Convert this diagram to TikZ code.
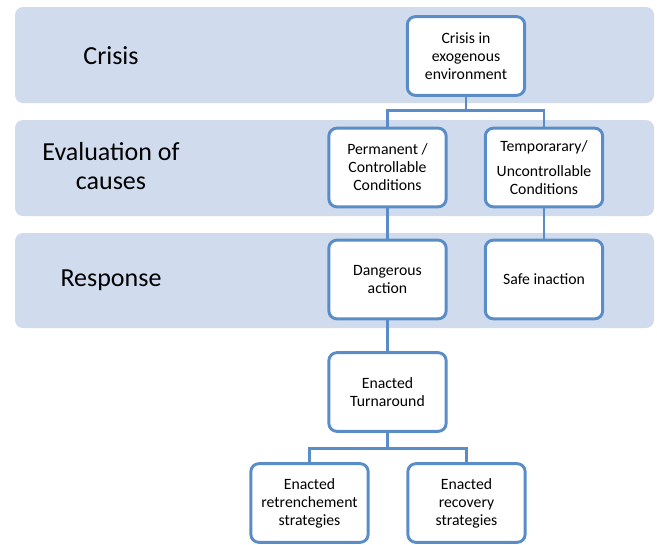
\documentclass[tikz,border=0pt]{standalone}
\usepackage{fontspec}
\setmainfont{Carlito}
\usepackage{tikz}
\usepackage{xcolor}
\definecolor{bandc}{HTML}{D0DCEE}
\definecolor{bordc}{HTML}{5A8DC8}

\begin{document}
\begin{tikzpicture}[x=0.75pt,y=-0.75pt]%
  \tikzstyle{band}=[fill=bandc,rounded corners=6pt]
  \tikzstyle{lab}=[font=\fontsize{19.5}{22}\selectfont,align=center]
  \tikzstyle{boxn}=[rectangle,draw=bordc,fill=white,line width=2.2pt,rounded corners=6pt,
    minimum width=88pt,minimum height=59pt,inner sep=0,align=center,
    font=\fontsize{11.8}{13.5}\selectfont]
  \tikzstyle{conn}=[draw=bordc,line width=2.2pt]
  \useasboundingbox (0,0) rectangle (657,544);
  % background bands
  \fill[band] (15,7) rectangle (654,103);
  \fill[band] (15,120) rectangle (654,216);
  \fill[band] (15,233) rectangle (654,328);
  \node[lab] (l1) at (111,56) {Crisis};
  \node[lab] (l2) at (111,166) {Evaluation of\\causes};
  \node[lab] (l3) at (111,280) {Response};
  % boxes
  \node[boxn] (c) at (466,56) {Crisis in\\exogenous\\environment};
  \node[boxn] (p) at (387.5,167.5) {Permanent /\\Controllable\\Conditions};
  \node[boxn] (t) at (544,167.5) {Temporarary/\\[5pt]Uncontrollable\\Conditions};
  \node[boxn] (d) at (387.5,279.5) {Dangerous\\action};
  \node[boxn] (s) at (544,279.5) {Safe inaction};
  \node[boxn] (e) at (387.5,392) {Enacted\\Turnaround};
  \node[boxn] (r1) at (309.5,503) {Enacted\\retrenchement\\strategies};
  \node[boxn] (r2) at (466.5,503) {Enacted\\recovery\\strategies};
  % connectors
  \draw[conn] (c.south) -- ++(0,14) -| (p.north);
  \draw[conn] (c.south) -- ++(0,14) -| (t.north);
  \draw[conn] (p) -- (d);
  \draw[conn] (t) -- (s);
  \draw[conn] (d) -- (e);
  \draw[conn] (e.south) -- ++(0,16) -| (r1.north);
  \draw[conn] (e.south) -- ++(0,16) -| (r2.north);
\end{tikzpicture}
\end{document}
